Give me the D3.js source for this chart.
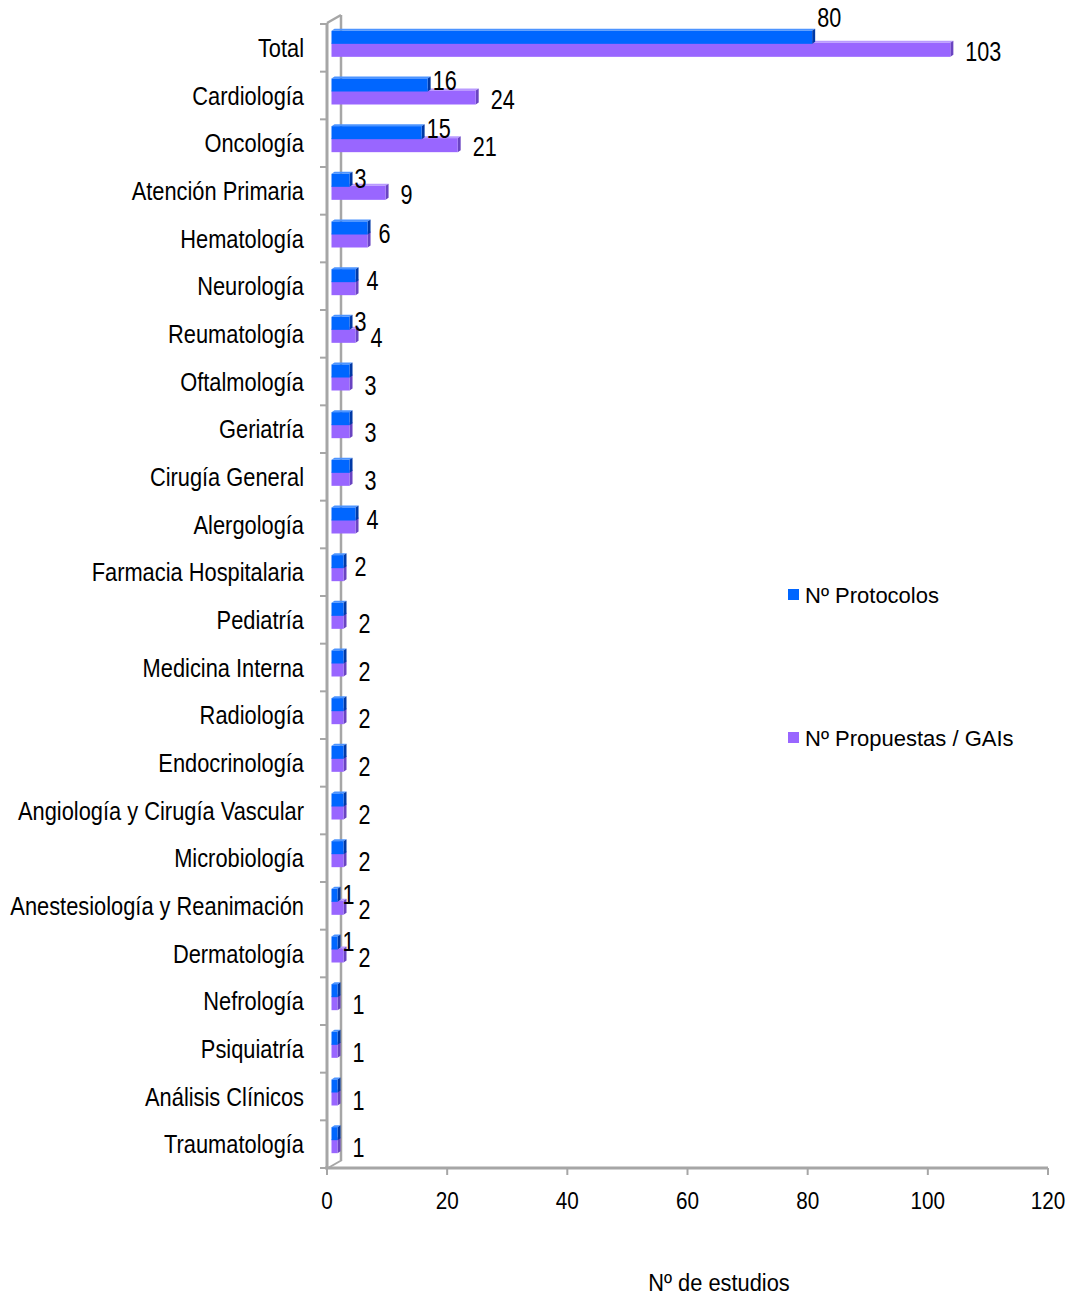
<!DOCTYPE html>
<html lang="es">
<head>
<meta charset="UTF-8">
<title>Nº de estudios por especialidad</title>
<script src="https://d3js.org/d3.v7.min.js"></script>
<style>
  body { margin: 0; background: #fff; }
  text { font-family: "Liberation Sans", Arial, sans-serif; fill: #000; }
</style>
</head>
<body>
<svg id="chart"></svg>
<script>
const categorias = ["Total", "Cardiología", "Oncología", "Atención Primaria", "Hematología",
  "Neurología", "Reumatología", "Oftalmología", "Geriatría", "Cirugía General", "Alergología",
  "Farmacia Hospitalaria", "Pediatría", "Medicina Interna", "Radiología", "Endocrinología",
  "Angiología y Cirugía Vascular", "Microbiología", "Anestesiología y Reanimación",
  "Dermatología", "Nefrología", "Psiquiatría", "Análisis Clínicos", "Traumatología"];
const protocolos = [80, 16, 15, 3, 6, 4, 3, 3, 3, 3, 4, 2, 2, 2, 2, 2, 2, 2, 1, 1, 1, 1, 1, 1];
const propuestas = [103, 24, 21, 9, 6, 4, 4, 3, 3, 3, 4, 2, 2, 2, 2, 2, 2, 2, 2, 2, 1, 1, 1, 1];
// which label Excel kept when both values coincide
const etiquetaSola = ["", "", "", "", "P", "P", "", "G", "G", "G", "P", "P", "G", "G", "G", "G",
  "G", "G", "", "", "G", "G", "G", "G"];
const ticksX = [0, 20, 40, 60, 80, 100, 120];
const series = ["Nº Protocolos", "Nº Propuestas / GAIs"];

const width = 1074, height = 1299;
const svg = d3.select("#chart").attr("width", width).attr("height", height);

const x = d3.scaleLinear().domain([0, 120]).range([327, 1048]);
const y = d3.scaleBand().domain(categorias).range([24, 1168]);

const colAzul = { front: "#0066ff", top: "#4d94ff", side: "#0039a6" };
const colMorado = { front: "#9966ff", top: "#b99aff", side: "#6a44c2" };
const shift = 4.5, depth = 3;

// text squeezed horizontally like the original picture
function texto(g, tx, ty, str, size, sx, anchor) {
  return g.append("text")
    .attr("transform", `translate(${tx},${ty}) scale(${sx},1)`)
    .attr("text-anchor", anchor || "start")
    .style("font-size", size + "px")
    .text(str);
}

// 3D walls / axes
const ejes = svg.append("g").attr("stroke", "#a6a6a6").attr("fill", "none");
ejes.append("line").attr("x1", 341).attr("x2", 341).attr("y1", 15).attr("y2", 1160).attr("stroke-width", 2.5);
ejes.append("path").attr("d", "M327,23 L341,15").attr("stroke-width", 2.5);
ejes.append("path").attr("d", "M328,1168 L342,1160").attr("stroke-width", 2);
ejes.append("line").attr("x1", 327).attr("x2", 327).attr("y1", 23).attr("y2", 1168).attr("stroke-width", 3);
ejes.append("line").attr("x1", 325).attr("x2", 1048).attr("y1", 1168).attr("y2", 1168).attr("stroke-width", 3);

// category ticks
const bordes = categorias.map(c => y(c)).concat([y.range()[1]]);
ejes.selectAll("line.ty").data(bordes).enter().append("line")
  .attr("x1", 320).attr("x2", 327).attr("y1", d => d).attr("y2", d => d).attr("stroke-width", 2);
ejes.selectAll("line.tx").data(ticksX).enter().append("line")
  .attr("x1", d => x(d)).attr("x2", d => x(d)).attr("y1", 1168).attr("y2", 1175).attr("stroke-width", 2);

const textos = svg.append("g");
ticksX.forEach(t => texto(textos, x(t), 1209, t, 23, 0.9, "middle"));
categorias.forEach(c => texto(textos, 304, y(c) + y.bandwidth() / 2 + 9, c, 26, 0.84, "end"));
texto(textos, 719, 1291, "Nº de estudios", 24, 0.91, "middle");

// 3D bar helper
function bar3d(g, x0, x1, yTop, h, col) {
  g.append("path").attr("fill", col.top)
    .attr("d", `M${x0},${yTop} L${x0 + depth},${yTop - 2} L${x1 + depth},${yTop - 2} L${x1},${yTop} Z`);
  g.append("path").attr("fill", col.side)
    .attr("d", `M${x1},${yTop} L${x1 + depth},${yTop - 2} L${x1 + depth},${yTop + h - 2} L${x1},${yTop + h} Z`);
  g.append("rect").attr("x", x0).attr("y", yTop).attr("width", x1 - x0).attr("height", h).attr("fill", col.front);
}

const barras = svg.append("g");
categorias.forEach((c, i) => {
  const cy = y(c) + y.bandwidth() / 2;
  const g = barras.append("g");
  bar3d(g, x(0) + shift, x(propuestas[i]) + shift, cy - 5, 14, colMorado);
  bar3d(g, x(0) + shift, x(protocolos[i]) + shift, cy - 17, 13, colAzul);
});

// data labels
const etiquetas = svg.append("g");
categorias.forEach((c, i) => {
  const cy = y(c) + y.bandwidth() / 2;
  const sola = etiquetaSola[i];
  if (sola === "P") {
    texto(etiquetas, x(protocolos[i]) + shift + depth + 8, cy + 4, protocolos[i], 27, 0.8);
  } else if (sola === "G") {
    texto(etiquetas, x(propuestas[i]) + shift + depth + 12, cy + 13, propuestas[i], 27, 0.8);
  } else {
    texto(etiquetas, x(protocolos[i]) + shift + depth + 2, cy - 2 - protocolos[i] * 0.23, protocolos[i], 27, 0.8);
    texto(etiquetas, x(propuestas[i]) + shift + depth + 12, cy + 13, propuestas[i], 27, 0.8);
  }
});

// legend
const leyenda = svg.append("g");
[colAzul, colMorado].forEach((col, i) => {
  const ly = 595 + i * 143;
  leyenda.append("rect").attr("x", 788).attr("y", ly - 6).attr("width", 11).attr("height", 11).attr("fill", col.front);
  texto(leyenda, 805, ly + 8, series[i], 22, 1);
});
</script>
</body>
</html>
